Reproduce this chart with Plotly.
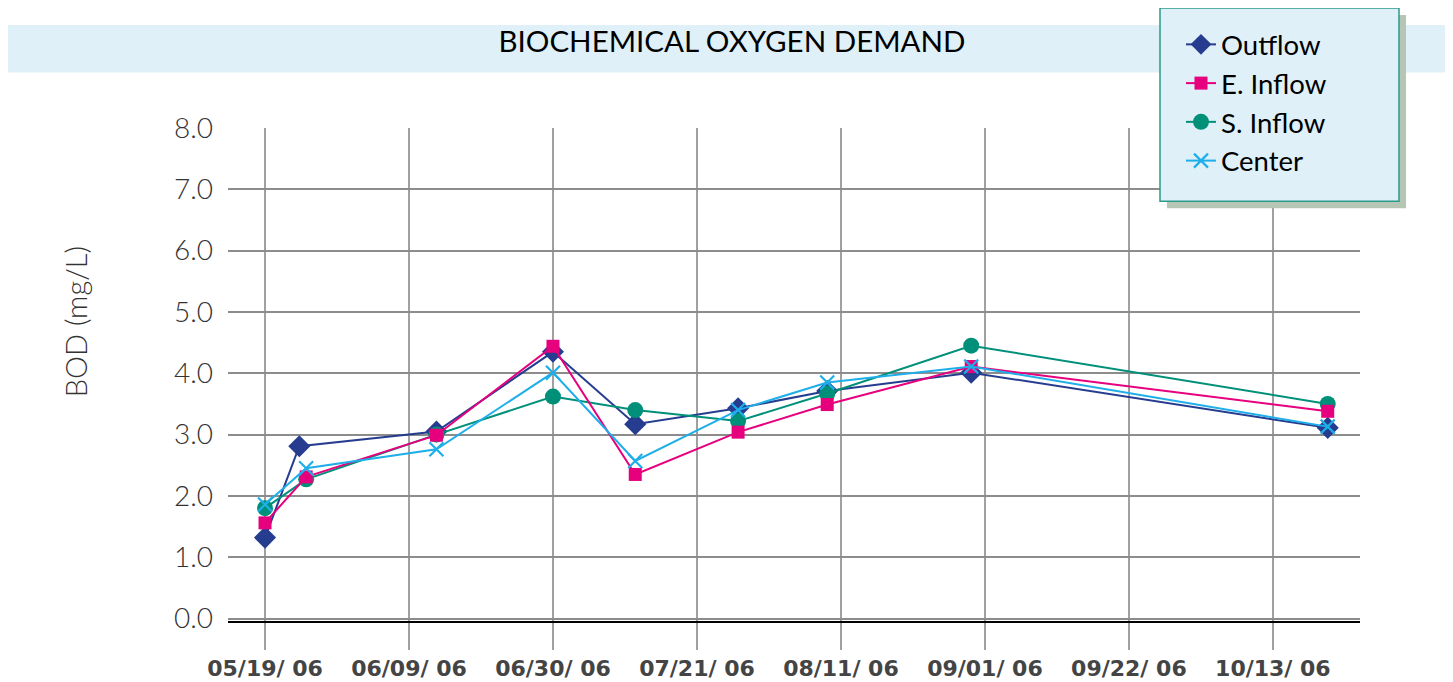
import plotly.graph_objects as go

# sampling dates and BOD readings (mg/L)
dates_outflow = ["2006-05-19", "2006-05-24", "2006-06-13", "2006-06-30", "2006-07-12",
                 "2006-07-27", "2006-08-09", "2006-08-30", "2006-10-21"]
dates_other = ["2006-05-19", "2006-05-25", "2006-06-13", "2006-06-30", "2006-07-12",
               "2006-07-27", "2006-08-09", "2006-08-30", "2006-10-21"]

outflow = [1.32, 2.81, 3.05, 4.35, 3.17, 3.43, 3.71, 4.01, 3.11]
e_inflow = [1.56, 2.31, 2.99, 4.44, 2.35, 3.04, 3.49, 4.11, 3.38]
s_inflow = [1.80, 2.27, 3.00, 3.62, 3.40, 3.22, 3.67, 4.45, 3.50]
center = [1.86, 2.45, 2.76, 4.01, 2.57, 3.40, 3.85, 4.11, 3.13]

tick_dates = ["2006-05-19", "2006-06-09", "2006-06-30", "2006-07-21",
              "2006-08-11", "2006-09-01", "2006-09-22", "2006-10-13"]
tick_labels = ["05/19/ 06", "06/09/ 06", "06/30/ 06", "07/21/ 06",
               "08/11/ 06", "09/01/ 06", "09/22/ 06", "10/13/ 06"]

# page body adds an 8px margin, so work in screen pixels and shift
OFF = 8
W, H = 1453, 682
ML = 228 - OFF
MT = 124 - OFF
MR = W - (1360 - OFF)
MB = H - (621.5 - OFF)
PW, PH = W - ML - MR, H - MT - MB


def px(x):
    return (x - OFF - ML) / PW


def py(y):
    return (H - MB - (y - OFF)) / PH


fig = go.Figure()

# drawing order: S. Inflow under E. Inflow, legend order kept via legendrank
series = [
    ("Outflow", dates_outflow, outflow, "#263d8f", "diamond", 17, 1),
    ("S. Inflow", dates_other, s_inflow, "#00907a", "circle", 16, 3),
    ("E. Inflow", dates_other, e_inflow, "#e6007e", "square", 13, 2),
    ("Center", dates_other, center, "#1eaeea", "x-thin", 14, 4),
]
for name, xs, ys, color, symbol, size, rank in series:
    fig.add_trace(go.Scatter(
        x=xs, y=ys, name=name, mode="lines+markers",
        line=dict(color=color, width=2),
        marker=dict(symbol=symbol, size=size, color=color,
                    line=dict(color=color, width=2.2 if symbol == "x-thin" else 0)),
        legendrank=rank,
    ))

fig.update_layout(
    width=W, height=H,
    margin=dict(l=ML, r=MR, t=MT, b=MB),
    paper_bgcolor="white",
    plot_bgcolor="white",
    font=dict(family="Lato, sans-serif", color="#333"),
    showlegend=True,
    legend=dict(
        x=px(1181), y=py(15), xanchor="left", yanchor="top",
        xref="paper", yref="paper",
        bgcolor="rgba(0,0,0,0)", borderwidth=0,
        font=dict(size=27.5, color="black", family="Lato, sans-serif"),
        tracegroupgap=0,
    ),
    title=dict(
        text="BIOCHEMICAL OXYGEN DEMAND",
        x=(732 - OFF) / W, y=1 - (42 - OFF) / H, xanchor="center", yanchor="middle",
        xref="container", yref="container",
        font=dict(size=29.5, color="black", family="Lato, sans-serif"),
    ),
    xaxis=dict(
        type="date",
        range=["2006-05-13 14:24", "2006-10-25 17:00"],
        tickvals=tick_dates, ticktext=tick_labels,
        tickfont=dict(size=22, color="#444", family="DejaVu Sans, sans-serif", weight="bold"),
        showgrid=True, gridcolor="#a0a0a0", gridwidth=1.5,
        ticks="outside", ticklen=27, tickcolor="#a0a0a0", tickwidth=1.5,
        ticklabelstandoff=0,
        showline=True, linecolor="black", linewidth=2,
        zeroline=False, automargin=False,
    ),
    yaxis=dict(
        range=[-0.04, 8.0],
        tickvals=[0, 1, 2, 3, 4, 5, 6, 7, 8],
        tickformat=".1f",
        tickfont=dict(size=28, color="#333", family="Lato, sans-serif", weight=300),
        showgrid=True, gridcolor="#8c8c8c", gridwidth=1.5,
        ticks="", ticklabelstandoff=14,
        zeroline=False, showline=False, automargin=False,
    ),
    annotations=[dict(
        text="BOD (mg/L)", textangle=-90,
        x=px(75), y=py(320), xref="paper", yref="paper",
        xanchor="center", yanchor="middle", showarrow=False,
        font=dict(size=29, color="#333", family="Lato, sans-serif", weight=300),
    )],
    shapes=[
        # title band
        dict(type="rect", xref="paper", yref="paper",
             x0=px(8), x1=px(W + 20), y0=py(68), y1=py(20),
             fillcolor="#dff0f8", line=dict(width=0), layer="below"),
        # black vertical reference at first sampling date
        dict(type="line", xref="x", yref="paper",
             x0=tick_dates[0], x1=tick_dates[0], y0=py(648), y1=1,
             line=dict(color="black", width=1.5), layer="between"),
        # legend shadow and box
        dict(type="rect", xref="paper", yref="paper",
             x0=px(1167), x1=px(1406), y0=py(205), y1=py(10),
             fillcolor="#b7c6b4", line=dict(width=0), layer="above"),
        dict(type="rect", xref="paper", yref="paper",
             x0=px(1160), x1=px(1399), y0=py(198), y1=py(3),
             fillcolor="#dff0f8", line=dict(color="#2a9a8a", width=1.5), layer="above"),
    ],
)

fig.write_html("out.html")
